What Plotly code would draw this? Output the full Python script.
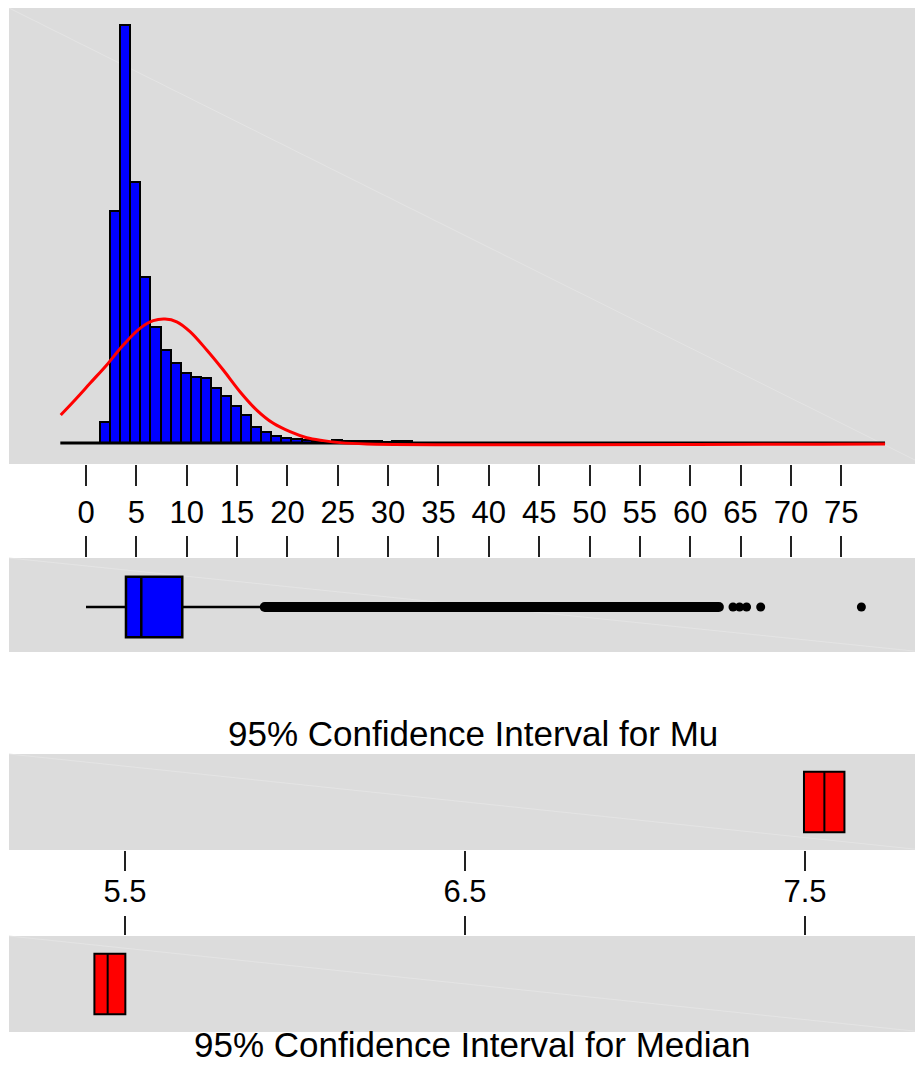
import plotly.graph_objects as go

# histogram: unit-wide bins, percent of observations
bin_centers = [1.9, 2.9, 3.9, 4.9, 5.9, 6.9, 7.9, 8.9, 9.9, 10.9,
               11.9, 12.9, 13.9, 14.9, 15.9, 16.9, 17.9, 18.9, 19.9, 20.9,
               21.9, 22.9, 23.9, 24.9, 25.9, 26.9, 27.9, 28.9, 29.9, 30.9, 31.9]
bin_pct = [1.18, 12.75, 22.97, 14.34, 9.12, 6.37, 5.11, 4.40, 3.85, 3.63,
           3.57, 3.02, 2.58, 2.03, 1.54, 0.88, 0.60, 0.41, 0.30, 0.22,
           0.16, 0.11, 0.08, 0.16, 0.11, 0.11, 0.11, 0.11, 0.03, 0.11, 0.11]

# fitted normal curve
curve_x = [-2.51, -1.26, 0.40, 2.06, 3.70, 5.36, 6.68, 7.85, 9.01, 10.33,
           11.99, 13.63, 15.29, 16.95, 18.60, 20.26, 21.92, 23.57, 25.22, 27.87, 79.35]
curve_y = [1.54, 2.27, 3.28, 4.29, 5.38, 6.30, 6.72, 6.81, 6.66, 6.12,
           5.11, 4.01, 2.82, 1.81, 1.08, 0.62, 0.29, 0.13, 0.02, -0.05, -0.05]

baseline_x = [-2.55, 79.35]
baseline_y = [0, 0]

tick_values = [0, 5, 10, 15, 20, 25, 30, 35, 40, 45, 50, 55, 60, 65, 70, 75]

# boxplot summary
box_q1, box_median, box_q3 = 3.97, 5.49, 9.56
box_lo, box_hi = 0.0, 17.3
outlier_band = [17.75, 62.85]
outliers = [64.25, 64.9, 65.6, 67.0, 77.0]

# confidence intervals: lower, centre, upper
mu_ci = [7.497, 7.557, 7.616]
median_ci = [5.41, 5.449, 5.501]
ci_ticks = [5.5, 6.5, 7.5]

# page has an 8px body margin, so the figure is drawn 8px in from the corner
OFF = 8
W, H = 923 - OFF, 1066 - OFF
FONT = "Arial, Liberation Sans, sans-serif"
GRAY = "#dcdcdc"


def px(x):
    return (x - OFF) / W


def py(y):
    return min(1.0, (H - (y - OFF)) / H)


def ydom(top, bottom):
    return [py(bottom), py(top)]


xdom = [px(9), 1]

fig = go.Figure()

fig.add_trace(go.Bar(x=bin_centers, y=bin_pct, width=1.0,
                     marker=dict(color="#0000ff", line=dict(color="black", width=2)),
                     xaxis="x", yaxis="y", showlegend=False))
fig.add_trace(go.Scatter(x=baseline_x, y=baseline_y, mode="lines",
                         line=dict(color="black", width=3),
                         xaxis="x", yaxis="y", showlegend=False))
fig.add_trace(go.Scatter(x=curve_x, y=curve_y, mode="lines",
                         line=dict(color="#ff0000", width=3, shape="spline"),
                         xaxis="x", yaxis="y", showlegend=False))

# boxplot
fig.add_trace(go.Box(y=[0], q1=[box_q1], median=[box_median], q3=[box_q3],
                     lowerfence=[box_lo], upperfence=[box_hi],
                     orientation="h", boxpoints=False, width=0.645, whiskerwidth=0,
                     fillcolor="#0000ff", line=dict(color="black", width=2.5),
                     xaxis="x2", yaxis="y2", showlegend=False, hoverinfo="skip"))
fig.add_trace(go.Scatter(x=outlier_band, y=[0, 0], mode="lines+markers",
                         line=dict(color="black", width=10),
                         marker=dict(color="black", size=10),
                         xaxis="x2", yaxis="y2", showlegend=False))
fig.add_trace(go.Scatter(x=outliers, y=[0] * len(outliers), mode="markers",
                         marker=dict(color="black", size=9),
                         xaxis="x2", yaxis="y2", showlegend=False))

# confidence interval boxes
for ci, xa, ya in [(mu_ci, "x3", "y3"), (median_ci, "x4", "y4")]:
    fig.add_trace(go.Box(y=[0], q1=[ci[0]], median=[ci[1]], q3=[ci[2]],
                         lowerfence=[ci[0]], upperfence=[ci[2]],
                         orientation="h", boxpoints=False, width=0.63, whiskerwidth=0,
                         fillcolor="#ff0000", line=dict(color="black", width=2),
                         xaxis=xa, yaxis=ya, showlegend=False, hoverinfo="skip"))

hist_range = [(9 - 86) / 10.07, (923 - 86) / 10.07]
ci_range = [5.5 - 116 / 340, 5.5 + 798 / 340]

tick_style = dict(ticks="outside", tickcolor="#222", tickwidth=1.5,
                  showgrid=False, zeroline=False, showline=False)

fig.update_layout(
    width=W, height=H,
    margin=dict(l=0, r=0, t=0, b=0),
    paper_bgcolor="white", plot_bgcolor=GRAY,
    bargap=0,
    font=dict(family=FONT, color="black"),
    xaxis=dict(domain=xdom, range=hist_range, tickvals=tick_values,
               ticklen=21, tickfont=dict(size=31), **tick_style),
    # panel top is clipped at the page margin; keep 18.2 px per percent
    yaxis=dict(domain=ydom(8, 464), range=[-1.154, (443 - 8) / 18.2], visible=False),
    xaxis2=dict(domain=xdom, range=hist_range, tickvals=tick_values, side="top",
                ticklen=21, showticklabels=False, anchor="y2", **tick_style),
    yaxis2=dict(domain=ydom(558, 652), range=[-0.479, 0.521], visible=False),
    xaxis3=dict(domain=xdom, range=ci_range, tickvals=ci_ticks, ticktext=["5.5", "6.5", "7.5"],
                ticklen=20, tickfont=dict(size=31), ticklabelstandoff=-6,
                anchor="y3", **tick_style),
    yaxis3=dict(domain=ydom(754, 850), range=[-0.5, 0.5], visible=False),
    xaxis4=dict(domain=xdom, range=ci_range, tickvals=ci_ticks, side="top",
                ticklen=19, showticklabels=False, anchor="y4", **tick_style),
    yaxis4=dict(domain=ydom(936, 1032), range=[-0.5, 0.5], visible=False),
    annotations=[
        dict(text="95% Confidence Interval for Mu", x=px(473), y=py(733),
             xref="paper", yref="paper", xanchor="center", yanchor="middle",
             showarrow=False, font=dict(size=35)),
        dict(text="95% Confidence Interval for Median", x=px(472), y=0,
             xref="paper", yref="paper", xanchor="center", yanchor="bottom",
             showarrow=False, font=dict(size=35)),
    ],
)

# faint diagonal seams across the grey panels
for top, bottom in [(8, 464), (558, 652), (754, 850), (936, 1032)]:
    fig.add_shape(type="line", xref="paper", yref="paper", layer="below",
                  x0=px(9), y0=py(top), x1=1, y1=py(bottom),
                  line=dict(color="#e4e4e4", width=1))

fig.write_html("out.html")
